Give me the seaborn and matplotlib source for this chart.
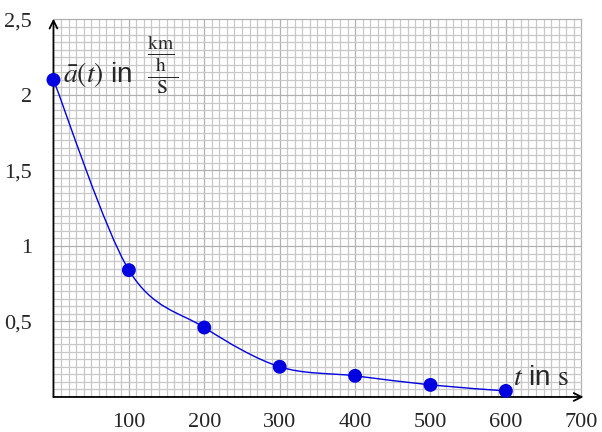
import numpy as np
import pandas as pd
import matplotlib
matplotlib.use("Agg")
import matplotlib.pyplot as plt
from matplotlib.path import Path
from matplotlib.patches import PathPatch
import seaborn as sns

# data
t_values = [0, 100, 200, 300, 400, 500, 600]
a_values = [2.1, 0.84, 0.46, 0.2, 0.14, 0.08, 0.04]
x_ticks = [100, 200, 300, 400, 500, 600, 700]
y_ticks = [0.5, 1.0, 1.5, 2.0, 2.5]
y_tick_labels = ["0,5", "1", "1,5", "2", "2,5"]

BLUE = "#0000e0"
MINOR_GRID = "#c8c8c8"
MAJOR_GRID = "#b0b0b0"

sns.set_style("white")
plt.rcParams["font.family"] = ["Liberation Sans", "DejaVu Sans"]
plt.rcParams["mathtext.fontset"] = "stix"

fig = plt.figure(figsize=(6.02, 4.32), dpi=100)
X0, X1 = -5, 710
Y0, Y1 = -0.03, 2.56
ax = fig.add_axes([49.7 / 602, 30.5 / 432, (588.8 - 49.7) / 602, (421.6 - 30.5) / 432])
ax.set_xlim(X0, X1)
ax.set_ylim(Y0, Y1)

# millimetre paper grid
for gx in range(10, 701, 10):
    major = gx % 100 == 0
    ax.plot([gx, gx], [0, 2.5], color=MAJOR_GRID if major else MINOR_GRID,
            lw=0.9, zorder=0)
for i in range(1, 51):
    gy = i * 0.05
    major = i % 10 == 0
    ax.plot([0, 700], [gy, gy], color=MAJOR_GRID if major else MINOR_GRID,
            lw=0.9, zorder=0)

for s in ax.spines.values():
    s.set_color("none")
ax.spines["bottom"].set_position(("data", 0))
ax.spines["left"].set_position(("data", 0))

ax.set_xticks(x_ticks)
ax.set_xticklabels([str(v) for v in x_ticks])
ax.set_yticks(y_ticks)
ax.set_yticklabels(y_tick_labels)
ax.tick_params(axis="both", direction="inout", length=9, width=0.9,
               color="#888888", labelsize=16)
ax.tick_params(axis="x", pad=7)
ax.tick_params(axis="y", pad=11)
for lab in ax.get_xticklabels() + ax.get_yticklabels():
    lab.set_fontfamily("Liberation Serif")

# axes with arrow heads
arrow = dict(arrowstyle="->", color="black", lw=1.3, mutation_scale=14,
             shrinkA=0, shrinkB=0)
ax.annotate("", xy=(703, 0), xytext=(0, 0), arrowprops=arrow, zorder=3)
ax.annotate("", xy=(0, 2.505), xytext=(0, 0), arrowprops=arrow, zorder=3)

# smooth curve through the points (cubic Bezier, Catmull-Rom style)
pts = np.column_stack([t_values, a_values]).astype(float)
k = 0.16
verts = [pts[0]]
codes = [Path.MOVETO]
for i in range(len(pts) - 1):
    p0 = pts[i - 1] if i > 0 else pts[i]
    p1, p2 = pts[i], pts[i + 1]
    p3 = pts[i + 2] if i + 2 < len(pts) else pts[i + 1]
    c1 = p1 + k * (p2 - p0)
    c2 = p2 - k * (p3 - p1)
    verts += [c1, c2, p2]
    codes += [Path.CURVE4] * 3
ax.add_patch(PathPatch(Path(verts, codes), facecolor="none", edgecolor=BLUE,
                       lw=1.0, zorder=4))

df = pd.DataFrame({"t": t_values, "a": a_values})
sns.scatterplot(data=df, x="t", y="a", ax=ax, color=BLUE, s=100,
                edgecolor="none", zorder=5, clip_on=False)
ax.set_xlabel("")
ax.set_ylabel("")

ax.text(13, 2.2,
        r"$\bar{a}(t)$ in  $\dfrac{\frac{\mathrm{km}}{\mathrm{h}}}{\mathrm{s}}$",
        fontsize=20, ha="left", va="center")
ax.text(610, 0.125, r"$t$ in $\mathrm{s}$", fontsize=20, ha="left",
        va="center")

fig.savefig("out.png", dpi=100)
